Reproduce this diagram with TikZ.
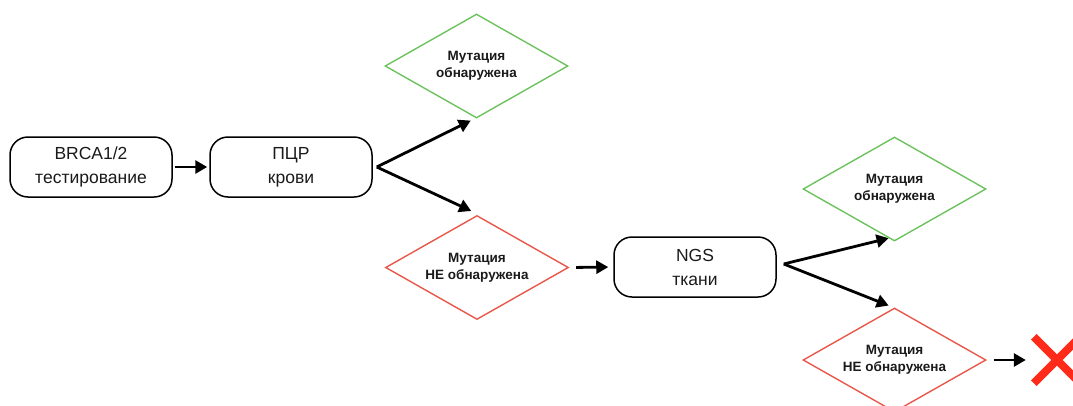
\documentclass[tikz,border=0pt]{standalone}
\usepackage{fontspec}
\setmainfont{Liberation Sans}
\usetikzlibrary{shapes.geometric,arrows.meta}
\definecolor{grn}{HTML}{6CC35E}
\definecolor{rd}{HTML}{E8574A}
\definecolor{xred}{HTML}{FF2A17}
\definecolor{txt}{HTML}{1A1A1A}
\begin{document}
\begin{tikzpicture}[x=1pt,y=-1pt,
 box/.style={draw,line width=1.5pt,rounded corners=18pt,minimum width=162pt,minimum height=60pt,align=center,inner sep=0pt,text=txt,font=\fontsize{17.5}{24}\selectfont},
 dia/.style={diamond,draw,line width=1.4pt,aspect=1.76,minimum width=183pt,minimum height=104pt,inner sep=0pt,align=center,text=txt,font=\bfseries\fontsize{13.5}{17}\selectfont},
 arr/.style={line width=2.8pt,-{Triangle[length=12pt,width=13pt]}},
 xstroke/.style={line width=8pt,xred}]
\useasboundingbox (0,0) rectangle (1073,405);
\node[box] (brca) at (91,167) {BRCA1/2\\тестирование};
\node[box] (pcr) at (291,167) {ПЦР\\крови};
\node[dia,draw=grn] (g1) at (476.5,66) {Мутация\\обнаружена};
\node[dia,draw=rd] (r1) at (477,267.5) {Мутация\\НЕ обнаружена};
\node[box] (ngs) at (695,267) {NGS\\ткани};
\node[dia,draw=grn] (g2) at (894.5,189) {Мутация\\обнаружена};
\node[dia,draw=rd] (r2) at (894.5,360) {Мутация\\НЕ обнаружена};
\node[inner sep=0pt,minimum size=46pt] (x) at (1057,360) {};
\draw[xstroke] (x.north west) -- (x.south east);
\draw[xstroke] (x.south west) -- (x.north east);
\draw[arr,shorten <=2pt,shorten >=2pt] (brca) -- (pcr);
\coordinate (pcrout) at ([xshift=4pt]pcr.east);
\draw[arr,shorten >=2pt] (pcrout) -- ([xshift=-4pt,yshift=-1pt]g1.south);
\draw[arr,shorten >=2pt] (pcrout) -- ([xshift=-4pt,yshift=3pt]r1.north);
\draw[arr,shorten <=7pt,shorten >=5pt] (r1.east) -- (ngs.west);
\coordinate (ngsout) at ([xshift=7pt,yshift=3pt]ngs.east);
\draw[arr,shorten >=2pt] (ngsout) -- ([xshift=-4pt,yshift=4pt]g2.south);
\draw[arr,shorten >=2pt] (ngsout) -- ([xshift=-4pt,yshift=1pt]r2.north);
\draw[arr,shorten <=7pt,shorten >=8pt] (r2.east) -- (x.west);
\end{tikzpicture}
\end{document}
